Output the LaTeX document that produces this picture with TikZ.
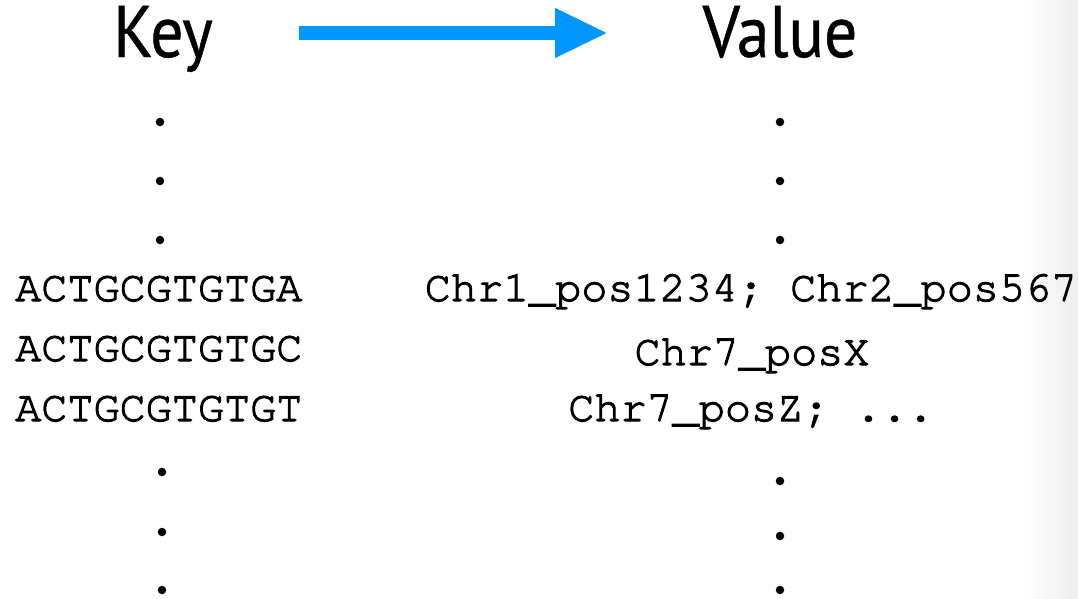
\documentclass[tikz,border=0pt]{standalone}
\usepackage{fontspec}
\usetikzlibrary{arrows.meta}
\newfontfamily\headfont[FakeStretch=0.9,FakeBold=0.6]{PT Sans}
\newfontfamily\monofont[FakeBold=2.5]{TeX Gyre Cursor}
\definecolor{arrowblue}{RGB}{0,150,255}
\tikzset{
  head/.style={inner sep=0pt, anchor=base, font=\headfont\fontsize{73}{73}\selectfont},
  seq/.style={inner sep=0pt, anchor=base west, font=\monofont\fontsize{43.5}{43.5}\selectfont},
  loc/.style={inner sep=0pt, anchor=base, font=\monofont\fontsize{43.5}{43.5}\selectfont},
  dotmark/.style={circle, fill=black, inner sep=0pt, minimum size=8.5pt},
  maparrow/.style={arrowblue, line width=14.6pt, -{Triangle[length=53pt,width=46pt]}}
}
\begin{document}
\begin{tikzpicture}[x=1pt,y=-1pt]
  \useasboundingbox (0,0) rectangle (1078,598);
  % faint shading along the right edge
  \shade[left color=white, right color=black!7, draw=none] (1020,0) rectangle (1078,598);

  % column headings
  \node[head] (key) at (163,57) {Key};
  \node[head] (value) at (780,57) {Value};

  % mapping arrow
  \coordinate (arrowfrom) at (299,33);
  \coordinate (arrowto) at (608,33);
  \draw[maparrow] (arrowfrom) -- (arrowto);

  % keys
  \node[dotmark] (kd1) at (160,122) {};
  \node[dotmark] (kd2) at (160,181) {};
  \node[dotmark] (kd3) at (160,240) {};
  \node[seq] (k1) at (15,301) {ACTGCGTGTGA};
  \node[seq] (k2) at (15,361) {ACTGCGTGTGC};
  \node[seq] (k3) at (15,421) {ACTGCGTGTGT};
  \node[dotmark] (kd4) at (162,472) {};
  \node[dotmark] (kd5) at (162,532) {};
  \node[dotmark] (kd6) at (162,590) {};

  % values
  \node[dotmark] (vd1) at (780,122) {};
  \node[dotmark] (vd2) at (780,181) {};
  \node[dotmark] (vd3) at (780,240) {};
  \node[loc] (v1) at (751,301) {Chr1\_pos1234; Chr2\_pos567};
  \node[loc] (v2) at (752,365) {Chr7\_posX};
  \node[loc] (v3) at (751,421) {Chr7\_posZ; ...};
  \node[dotmark] (vd4) at (780,481) {};
  \node[dotmark] (vd5) at (780,536) {};
  \node[dotmark] (vd6) at (780,590) {};
\end{tikzpicture}
\end{document}
